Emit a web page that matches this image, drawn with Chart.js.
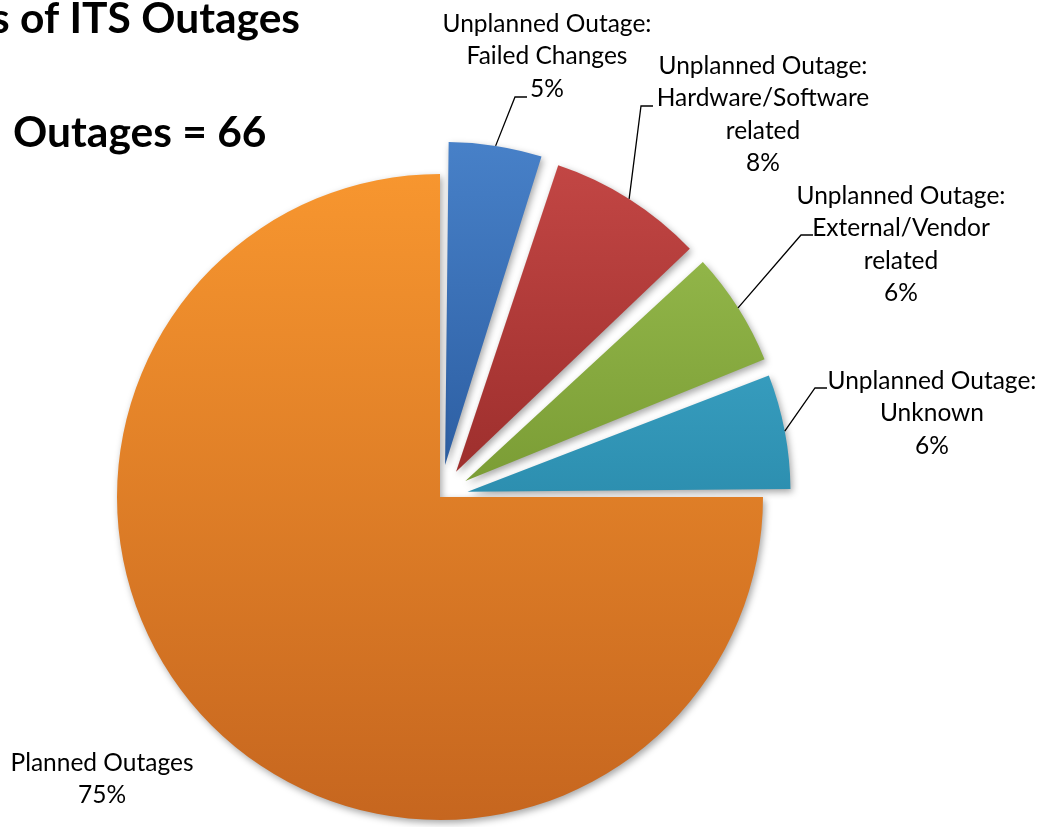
<!DOCTYPE html>
<html>
<head>
<meta charset="utf-8">
<script src="https://cdn.jsdelivr.net/npm/chart.js@4"></script>
<style>
  html, body { margin: 0; padding: 0; background: #fff; }
  #wrap { width: 1041px; height: 827px; }
</style>
</head>
<body>
<div id="wrap"><canvas id="outagesChart" width="1041" height="827"></canvas></div>
<script>
// Datos del gráfico
const categories = [
  'Unplanned Outage: Failed Changes',
  'Unplanned Outage: Hardware/Software related',
  'Unplanned Outage: External/Vendor related',
  'Unplanned Outage: Unknown',
  'Planned Outages'
];
const labelLines = [
  ['Unplanned Outage:', 'Failed Changes'],
  ['Unplanned Outage:', 'Hardware/Software', 'related'],
  ['Unplanned Outage:', 'External/Vendor', 'related'],
  ['Unplanned Outage:', 'Unknown'],
  ['Planned Outages']
];
const percentages = [5, 8, 6, 6, 75];
const titleLines = ['s of ITS Outages', 'Outages = 66'];

// Colores (arriba / abajo del degradado)
const topColors = ['#4a84cc', '#c84a48', '#9fc455', '#49b6d8', '#f7962f'];
const bottomColors = ['#2d5fa3', '#9e2f2d', '#7b9d35', '#2d8fb0', '#c6661f'];

// Posicion de las etiquetas (centro x, y de la primera linea, final de la linea guia)
const labelLayout = [
  { x: 547, y: 24, lead: [527, 97] },
  { x: 763, y: 66, lead: [653, 106] },
  { x: 901, y: 196, lead: [813, 235] },
  { x: 932, y: 381, lead: [827, 388] },
  { x: 102, y: 763, lead: null }
];

const R = 323;
const LABEL_FONT = 'Lato, "Noto Sans", sans-serif';

function fitFont(ctx, text, target, weight, family) {
  let size = 10;
  for (let s = 10; s < 60; s += 0.5) {
    ctx.font = weight + ' ' + s + 'px ' + family;
    if (ctx.measureText(text).width > target) break;
    size = s;
  }
  return size;
}

function sliceGradient(c) {
  const chart = c.chart;
  const i = c.dataIndex;
  const area = chart.chartArea;
  if (!area) return topColors[i];
  const cy = (area.top + area.bottom) / 2;
  let y0 = cy - R, y1 = cy + R;
  if (i < 4) { y0 = cy - R - 35; y1 = cy; }
  const g = chart.ctx.createLinearGradient(0, y0, 0, y1);
  g.addColorStop(0, topColors[i]);
  g.addColorStop(1, bottomColors[i]);
  return g;
}

const outagePlugin = {
  id: 'outageLabels',
  afterDatasetsUpdate(chart) {
    // mantener el mismo radio para las porciones separadas
    const meta = chart.getDatasetMeta(0);
    meta.data.forEach(arc => {
      const off = (arc.options.offset || 0) / 4;
      const fix = 1 - Math.sin(Math.min(Math.PI, arc.circumference));
      arc.outerRadius = R - off * fix;
    });
  },
  beforeDatasetsDraw(chart) {
    const ctx = chart.ctx;
    ctx.save();
    ctx.shadowColor = 'rgba(0,0,0,0.35)';
    ctx.shadowBlur = 7;
    ctx.shadowOffsetX = 2;
    ctx.shadowOffsetY = 3;
  },
  afterDatasetsDraw(chart) {
    const ctx = chart.ctx;
    ctx.restore();

    // Titulo
    ctx.save();
    ctx.fillStyle = '#000';
    ctx.textBaseline = 'alphabetic';
    ctx.textAlign = 'left';
    const tSize = fitFont(ctx, titleLines[1], 254, 'bold', 'Lato, sans-serif');
    ctx.font = 'bold ' + tSize + 'px Lato, sans-serif';
    const w0 = ctx.measureText(titleLines[0]).width;
    ctx.fillText(titleLines[0], 300 - w0, 33);
    ctx.fillText(titleLines[1], 13, 147);

    // Etiquetas
    const lSize = fitFont(ctx, 'Unplanned Outage:', 210, 'normal', LABEL_FONT);
    ctx.font = lSize + 'px ' + LABEL_FONT;
    ctx.textAlign = 'center';
    ctx.textBaseline = 'middle';
    const meta = chart.getDatasetMeta(0);
    meta.data.forEach((arc, i) => {
      const lay = labelLayout[i];
      const lines = labelLines[i].concat([percentages[i] + '%']);
      lines.forEach((t, k) => ctx.fillText(t, lay.x, lay.y + k * 32.5));
      if (lay.lead) {
        const mid = (arc.startAngle + arc.endAngle) / 2;
        const t = (arc.options.offset || 0) / 4;
        const ax = arc.x + Math.cos(mid) * (R + t);
        const ay = arc.y + Math.sin(mid) * (R + t);
        ctx.beginPath();
        ctx.strokeStyle = '#000';
        ctx.lineWidth = 1.3;
        ctx.moveTo(ax, ay);
        ctx.lineTo(lay.lead[0] - 12, lay.lead[1]);
        ctx.lineTo(lay.lead[0], lay.lead[1]);
        ctx.stroke();
      }
    });
    ctx.restore();
  }
};

new Chart(document.getElementById('outagesChart').getContext('2d'), {
  type: 'pie',
  data: {
    labels: categories,
    datasets: [{
      data: percentages,
      backgroundColor: sliceGradient,
      borderWidth: 0,
      offset: [130, 120, 120, 112, 0]
    }]
  },
  options: {
    responsive: false,
    animation: false,
    radius: R,
    layout: { padding: { left: 0, right: 161, top: 167, bottom: 0 } },
    plugins: {
      legend: { display: false },
      tooltip: { enabled: false },
      title: { display: false }
    },
    events: []
  },
  plugins: [outagePlugin]
});
</script>
</body>
</html>
